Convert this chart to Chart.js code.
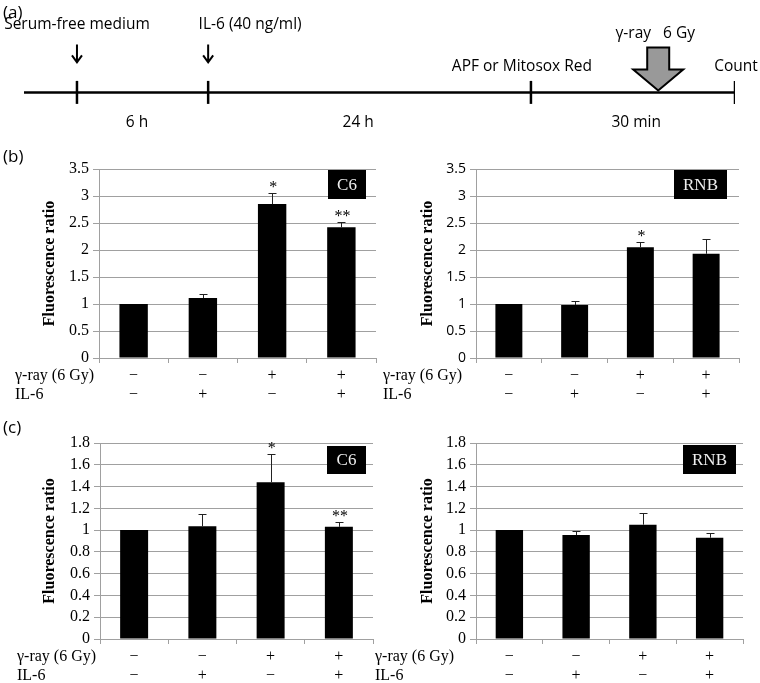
<!DOCTYPE html>
<html>
<head>
<meta charset="utf-8">
<script src="https://cdn.jsdelivr.net/npm/chart.js@4.4.1/dist/chart.umd.min.js"></script>
<style>
  body { margin: 0; background: #fff; }
  #fig { position: relative; width: 760px; height: 683px; background: #fff; overflow: hidden; }
  #fig canvas { position: absolute; }
  .tag { position: absolute; left: 3px; font: 17px 'Open Sans', sans-serif; line-height: 20px; color: #000; }
</style>
</head>
<body>
<div id="fig">
  <canvas id="timeline" width="760" height="140" style="left:0;top:0"></canvas>
  <canvas id="bC6" width="380" height="270" style="left:0;top:140px"></canvas>
  <canvas id="bRNB" width="390" height="270" style="left:370px;top:140px"></canvas>
  <canvas id="cC6" width="380" height="273" style="left:0;top:410px"></canvas>
  <canvas id="cRNB" width="390" height="273" style="left:370px;top:410px"></canvas>
  <div class="tag" style="top:2px">(a)</div>
  <div class="tag" style="top:146px">(b)</div>
  <div class="tag" style="top:417px">(c)</div>
</div>
<script>
// treatment rows under each bar chart
const gammaRay = ['−', '−', '+', '+'];
const il6 = ['−', '+', '−', '+'];
const rowNames = ['γ-ray (6 Gy)', 'IL-6'];

// y tick labels
const ticksB = [0, 0.5, 1, 1.5, 2, 2.5, 3, 3.5];
const ticksC = [0, 0.2, 0.4, 0.6, 0.8, 1, 1.2, 1.4, 1.6, 1.8];

// (b) APF
const bC6 = [1, 1.11, 2.85, 2.42];
const bC6Err = [0, 0.07, 0.21, 0.10];
const bC6Sig = ['', '', '*', '**'];
const bRNB = [1, 0.98, 2.05, 1.93];
const bRNBErr = [0, 0.07, 0.10, 0.27];
const bRNBSig = ['', '', '*', ''];

// (c) Mitosox
const cC6 = [1, 1.035, 1.44, 1.03];
const cC6Err = [0, 0.115, 0.26, 0.045];
const cC6Sig = ['', '', '*', '**'];
const cRNB = [1, 0.955, 1.05, 0.93];
const cRNBErr = [0, 0.04, 0.105, 0.045];
const cRNBSig = ['', '', '', ''];

// (a) timeline, schematic units 0..100
const eventPos = [7.45, 25.9, 71.3, 100];
const eventNames = ['Serum-free medium', 'IL-6 (40 ng/ml)', 'APF or Mitosox Red', 'Count'];
const stepPos = [15.9, 47, 86.1];
const stepNames = ['6 h', '24 h', '30 min'];
const irradPos = 89.2;
const irradName = 'γ-ray   6 Gy';

Chart.defaults.font.family = "'Liberation Serif', 'Times New Roman', serif";
Chart.defaults.color = '#000';

const gridGray = '#a0a0a0';
const sans = "'Open Sans', sans-serif";

const timelineExtras = {
  id: 'timelineExtras',
  afterDraw(chart) {
    const ctx = chart.ctx;
    const xs = chart.scales.x;
    const y0 = chart.scales.y.getPixelForValue(0);
    ctx.save();
    ctx.fillStyle = '#000';
    ctx.strokeStyle = '#000';
    ctx.font = '15.5px ' + sans;
    ctx.textBaseline = 'middle';
    ctx.textAlign = 'center';
    const shift = [0, 42, -9, 1];
    eventPos.forEach((p, i) => {
      const x = xs.getPixelForValue(p);
      if (i < 2) {
        ctx.fillText(eventNames[i], x + shift[i], y0 - 68);
        ctx.lineWidth = 2;
        ctx.beginPath();
        ctx.moveTo(x, y0 - 48);
        ctx.lineTo(x, y0 - 30);
        ctx.moveTo(x - 5, y0 - 37);
        ctx.lineTo(x, y0 - 30);
        ctx.lineTo(x + 5, y0 - 37);
        ctx.stroke();
      } else {
        ctx.fillText(eventNames[i], x + shift[i], y0 - 26);
      }
    });
    stepPos.forEach((p, i) => {
      ctx.fillText(stepNames[i], xs.getPixelForValue(p), y0 + 30);
    });
    // irradiation block arrow
    const gx = xs.getPixelForValue(irradPos);
    ctx.fillText(irradName, gx - 3, y0 - 59);
    ctx.beginPath();
    ctx.moveTo(gx - 11, y0 - 45);
    ctx.lineTo(gx + 11, y0 - 45);
    ctx.lineTo(gx + 11, y0 - 23);
    ctx.lineTo(gx + 25, y0 - 23);
    ctx.lineTo(gx, y0 - 2);
    ctx.lineTo(gx - 25, y0 - 23);
    ctx.lineTo(gx - 11, y0 - 23);
    ctx.closePath();
    ctx.fillStyle = '#999';
    ctx.fill();
    ctx.lineWidth = 2;
    ctx.stroke();
    ctx.restore();
  }
};

new Chart(document.getElementById('timeline'), {
  type: 'scatter',
  data: {
    datasets: [
      { type: 'line', data: [{ x: 0, y: 0 }, { x: 100, y: 0 }], borderColor: '#000', borderWidth: 2.5, pointRadius: 0 },
      { data: eventPos.map(p => ({ x: p, y: 0 })), pointStyle: 'line', pointRotation: 90, pointRadius: 11.5,
        pointBorderColor: '#000', pointBorderWidth: 2.5 }
    ]
  },
  options: {
    responsive: false,
    animation: false,
    layout: { padding: { left: 24, right: 25, top: 0, bottom: 0 } },
    scales: {
      x: { type: 'linear', min: 0, max: 100, display: false },
      y: { min: -0.3, max: 0.7, display: false }
    },
    plugins: { legend: { display: false }, tooltip: { enabled: false } }
  },
  plugins: [timelineExtras]
});

const panelExtras = {
  id: 'panelExtras',
  afterDatasetsDraw(chart, args, o) {
    const ctx = chart.ctx;
    const ys = chart.scales.y;
    const vals = chart.data.datasets[0].data;
    ctx.save();
    chart.getDatasetMeta(0).data.forEach((bar, i) => {
      const top = ys.getPixelForValue(vals[i] + o.err[i]);
      if (o.err[i]) {
        const x = Math.round(bar.x) + 0.5;
        const t = Math.round(top) + 0.5;
        ctx.strokeStyle = '#222';
        ctx.lineWidth = 1;
        ctx.beginPath();
        ctx.moveTo(x, ys.getPixelForValue(vals[i]));
        ctx.lineTo(x, t);
        ctx.moveTo(x - 4, t);
        ctx.lineTo(x + 4, t);
        ctx.stroke();
      }
      if (o.sig[i]) {
        ctx.fillStyle = '#000';
        ctx.font = '16px ' + Chart.defaults.font.family;
        ctx.textAlign = 'center';
        ctx.textBaseline = 'alphabetic';
        ctx.fillText(o.sig[i], bar.x + 1, top - 1);
      }
    });
    ctx.restore();
  },
  afterDraw(chart, args, o) {
    const ctx = chart.ctx;
    const xs = chart.scales.x;
    const area = chart.chartArea;
    ctx.save();
    // row headers, lined up with the tick label lines
    const lh = 19.2;
    const y1 = xs.top + 5 + 3 + lh / 2;
    ctx.fillStyle = '#000';
    ctx.font = '16px ' + Chart.defaults.font.family;
    ctx.textAlign = 'left';
    ctx.textBaseline = 'middle';
    rowNames.forEach((n, i) => ctx.fillText(n, o.headerX, y1 + i * lh));
    // cell line tag
    const b = o.box;
    const bx = area.right - b.dx - b.w;
    const by = area.top + b.dy;
    ctx.fillStyle = '#000';
    ctx.fillRect(bx, by, b.w, b.h);
    ctx.fillStyle = '#eee';
    ctx.font = '17px ' + Chart.defaults.font.family;
    ctx.textAlign = 'center';
    ctx.fillText(b.text, bx + b.w / 2, by + b.h / 2 + 1);
    ctx.restore();
  }
};

function makePanel(id, cfg) {
  const yTicks = cfg.ticks;
  new Chart(document.getElementById(id), {
    type: 'bar',
    data: {
      labels: gammaRay.map((g, i) => [g, il6[i]]),
      datasets: [{
        data: cfg.values,
        backgroundColor: '#000',
        barPercentage: 0.41,
        categoryPercentage: 1
      }]
    },
    options: {
      responsive: false,
      animation: false,
      layout: { padding: { left: 0, top: cfg.top, right: cfg.right, bottom: 0 } },
      plugins: {
        legend: { display: false },
        tooltip: { enabled: false },
        panelExtras: { err: cfg.err, sig: cfg.sig, headerX: cfg.headerX, box: cfg.box }
      },
      scales: {
        x: {
          grid: { display: true, drawOnChartArea: false, tickLength: 5, color: gridGray },
          border: { color: gridGray },
          ticks: { font: { size: 16 }, color: '#000', padding: 3, maxRotation: 0, autoSkip: false },
          afterFit: s => { s.height = cfg.xh; }
        },
        y: {
          min: 0,
          max: yTicks[yTicks.length - 1],
          afterBuildTicks: s => { s.ticks = yTicks.map(v => ({ value: v })); },
          afterFit: s => { s.width = cfg.yw; },
          grid: { color: gridGray, tickLength: 6 },
          border: { color: gridGray },
          ticks: { font: cfg.tickFont, color: '#000', padding: 4, autoSkip: false, callback: v => String(v) },
          title: {
            display: true,
            text: 'Fluorescence ratio',
            font: { size: 16, weight: 'bold' },
            color: '#000',
            padding: { top: cfg.titlePad, bottom: 0 }
          }
        }
      }
    },
    plugins: [panelExtras]
  });
}

const serifTick = { size: 16 };
const sansTick = { family: sans, size: 14 };

makePanel('bC6', { values: bC6, err: bC6Err, sig: bC6Sig, ticks: ticksB, tickFont: serifTick,
  yw: 99, top: 29, right: 4, xh: 52, titlePad: 40, headerX: 15, box: { text: 'C6', w: 38, h: 29, dx: 10, dy: 1 } });
makePanel('bRNB', { values: bRNB, err: bRNBErr, sig: bRNBSig, ticks: ticksB, tickFont: sansTick,
  yw: 106, top: 29, right: 21, xh: 52, titlePad: 48, headerX: 13, box: { text: 'RNB', w: 53, h: 29, dx: 12, dy: 1 } });
makePanel('cC6', { values: cC6, err: cC6Err, sig: cC6Sig, ticks: ticksC, tickFont: serifTick,
  yw: 100, top: 33, right: 7, xh: 44, titlePad: 40, headerX: 17, box: { text: 'C6', w: 39, h: 28, dx: 7, dy: 3 } });
makePanel('cRNB', { values: cRNB, err: cRNBErr, sig: cRNBSig, ticks: ticksC, tickFont: serifTick,
  yw: 106, top: 33, right: 17, xh: 44, titlePad: 48, headerX: 5, box: { text: 'RNB', w: 53, h: 29, dx: 7, dy: 2 } });
</script>
</body>
</html>
